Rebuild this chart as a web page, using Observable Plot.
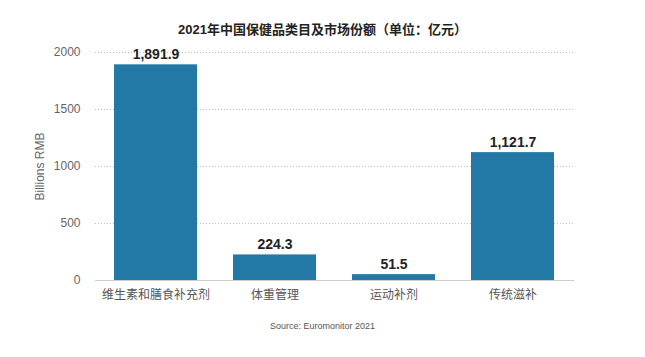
<!DOCTYPE html>
<html>
<head>
<meta charset="utf-8">
<script src="https://cdn.jsdelivr.net/npm/d3@7"></script>
<script src="https://cdn.jsdelivr.net/npm/@observablehq/plot@0.6"></script>
<style>
  body { margin: 0; background: #fff; font-family: "Liberation Sans", "Noto Sans CJK SC", sans-serif; }
  #wrap { width: 645px; height: 357px; position: relative; }
  #title { height: 45px; line-height: 20px; padding-top: 20px; box-sizing: border-box; text-align: center; font-size: 13px; font-weight: bold; color: #222; font-family: "Liberation Sans", "Noto Sans CJK SC", sans-serif; }
  #caption { text-align: center; font-size: 9px; color: #555; margin-top: 6px; }
</style>
</head>
<body>
<div id="wrap">
  <div id="title">2021年中国保健品类目及市场份额（单位：亿元）</div>
  <div id="chart"></div>
  <div id="caption">Source: Euromonitor 2021</div>
</div>
<script>
const categories = ["维生素和膳食补充剂", "体重管理", "运动补剂", "传统滋补"];
const values = [1891.9, 224.3, 51.5, 1121.7];
const yTicks = [0, 500, 1000, 1500, 2000];

const data = categories.map((c, i) => ({category: c, value: values[i]}));
const fmt = d3.format(",.1f");

const chart = Plot.plot({
  width: 645,
  height: 270,
  marginTop: 7,
  marginBottom: 35,
  marginLeft: 95,
  marginRight: 71,
  style: { fontFamily: "'Liberation Sans', 'Noto Sans CJK SC', sans-serif", background: "#fff" },
  x: { domain: categories, paddingInner: 0.3, paddingOuter: 0.15 },
  y: { domain: [0, 2000] },
  marks: [
    Plot.gridY(yTicks, { stroke: "#999", strokeOpacity: 0.8, strokeDasharray: "1,2", strokeWidth: 0.8 }),
    Plot.barY(data, { x: "category", y: "value", fill: "#2279a6" }),
    Plot.ruleY([0], { stroke: "#ccc", strokeWidth: 1 }),
    Plot.text(data, { x: "category", y: "value", text: d => fmt(d.value), dy: -6, lineAnchor: "bottom", fontSize: 14, fontWeight: "bold", fill: "#222" }),
    Plot.axisY({ ticks: yTicks, tickFormat: d3.format("d"), tickSize: 0, tickPadding: 15, fontSize: 12, color: "#666", label: "Billions RMB", labelAnchor: "center", labelArrow: "none", labelOffset: 60 }),
    Plot.axisX({ tickSize: 0, tickPadding: 10, fontSize: 12, color: "#555", label: null })
  ]
});
document.getElementById("chart").appendChild(chart);
</script>
</body>
</html>
